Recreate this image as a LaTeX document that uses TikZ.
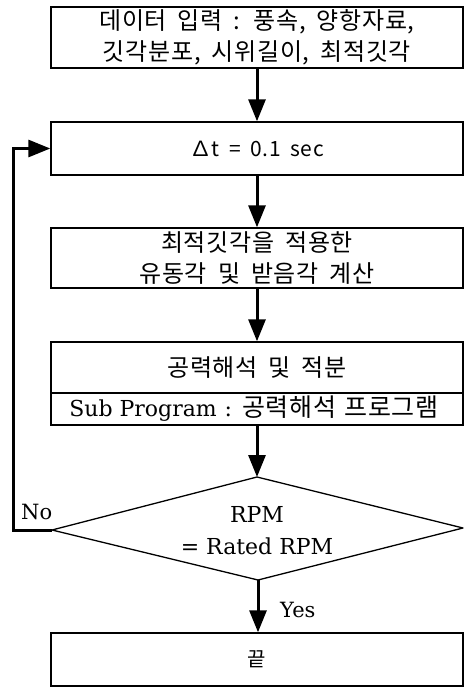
\documentclass[tikz,border=0pt]{standalone}
\usepackage{fontspec}
\usetikzlibrary{arrows.meta,shapes.geometric}
\newfontfamily\kr[WordSpace=1.8,LetterSpace=3]{Noto Sans CJK KR}
\newfontfamily\sr{DejaVu Serif}
\begin{document}
\begin{tikzpicture}[x=1pt,y=1pt,
  box/.style={draw, line width=1.4pt, minimum width=412pt, inner sep=0pt, align=center,
    font=\kr\fontsize{24}{31}\selectfont},
  flow/.style={line width=3pt, -{Triangle[length=22pt,width=17pt]}},
  lbl/.style={font=\sr\fontsize{21}{32}\selectfont, inner sep=0pt}]
\useasboundingbox (0,0) rectangle (465,-688);
\node[box, minimum height=61pt] (b1) at (257,-37.5) {데이터 입력 : 풍속, 양항자료,\\깃각분포, 시위길이, 최적깃각};
\node[box, minimum height=53pt, font=\kr\fontsize{21}{26}\selectfont] (b2) at (257,-148.5) {∆t = 0.1 sec};
\node[box, minimum height=60pt] (b3) at (257,-258) {최적깃각을 적용한\\유동각 및 받음각 계산};
\node[box, minimum height=51pt] (b4) at (257,-367.5) {공력해석 및 적분};
\node[box, minimum height=32pt, font=\kr\fontsize{25}{28}\selectfont] (b4s) at (257,-409) {\hspace{-6pt}{\sr\fontsize{22}{28}\selectfont Sub Program\hspace{8pt}:}\hspace{10pt}공력해석\hspace{8pt}프로그램};
\coordinate (dT) at (257,-477);
\coordinate (dL) at (52,-530);
\coordinate (dR) at (463,-528);
\coordinate (dB) at (258,-580);
\draw[line width=1.3pt, line join=round] (dT) -- (dR) -- (dB) -- (dL) -- cycle;
\node[align=center, inner sep=0pt, font=\sr\fontsize{22}{32}\selectfont] (dm) at (257,-531) {RPM\\= Rated RPM};
\node[box, minimum height=53pt, font=\kr\fontsize{20}{24}\selectfont] (end) at (257,-659.5) {끝};
\coordinate (lp) at (13,-530);
\draw[flow] (b1.south) -- (b2.north);
\draw[flow] (b2.south) -- (b3.north);
\draw[flow] (b3.south) -- (b4.north);
\draw[flow] (b4s.south -| dT) -- (dT);
\draw[flow] (dB) -- (end.north -| dB);
\draw[flow] (dL) -- (lp) |- (b2.west);
\node[lbl, anchor=west] (no) at (21,-512) {No};
\node[lbl, anchor=west] (yes) at (280,-610) {Yes};
\end{tikzpicture}
\end{document}
